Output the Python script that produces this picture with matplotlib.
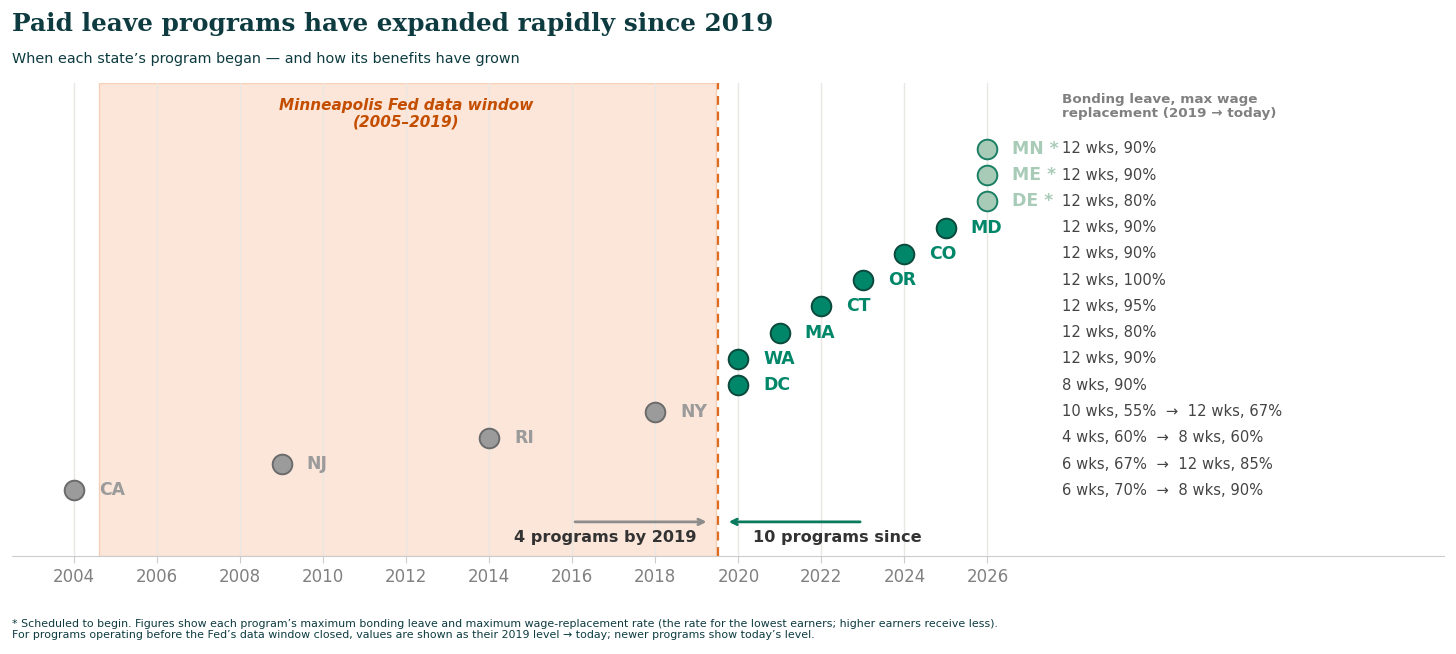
import matplotlib.pyplot as plt
import numpy as np

# program start years, bottom row first
states = ["CA", "NJ", "RI", "NY", "DC", "WA", "MA", "CT", "OR", "CO", "MD", "DE", "ME", "MN"]
start_years = [2004, 2009, 2014, 2018, 2020, 2020, 2021, 2022, 2023, 2024, 2025, 2026, 2026, 2026]
status = ["old", "old", "old", "old", "new", "new", "new", "new", "new", "new", "new",
          "sched", "sched", "sched"]
benefits = [
    "6 wks, 70%  \u2192  8 wks, 90%",
    "6 wks, 67%  \u2192  12 wks, 85%",
    "4 wks, 60%  \u2192  8 wks, 60%",
    "10 wks, 55%  \u2192  12 wks, 67%",
    "8 wks, 90%",
    "12 wks, 90%",
    "12 wks, 80%",
    "12 wks, 95%",
    "12 wks, 100%",
    "12 wks, 90%",
    "12 wks, 90%",
    "12 wks, 80%",
    "12 wks, 90%",
    "12 wks, 90%",
]
window_start, window_end = 2004.6, 2019.5
x_ticks = list(range(2004, 2027, 2))

styles = {
    "old":   dict(fc="#9b9b9b", ec="#6b6b6b", tc="#9b9b9b"),
    "new":   dict(fc="#00876a", ec="#0b4a3c", tc="#00876a"),
    "sched": dict(fc="#a8cbb8", ec="#1a7f64", tc="#a8cbb8"),
}
dark = "#0d3b40"

fig = plt.figure(figsize=(14.56, 6.54), dpi=100)
ax = fig.add_axes([0.0082, 0.1498, 0.9836, 0.7232])

rows = np.arange(len(states))

# data window shading + cutoff line
ax.axvspan(window_start, window_end - 0.05, color="#fce6d9", ec="#f6cfb6", lw=1, zorder=0)
ax.axvline(window_end, color="#dd6b20", ls=(0, (4, 3)), lw=1.6, zorder=2)

for xt in x_ticks:
    ax.axvline(xt, color="#e9e6e3", lw=1, zorder=0.5)

for i, (st, yr, s, b) in enumerate(zip(states, start_years, status, benefits)):
    sty = styles[s]
    ax.scatter(yr, i, s=200, color=sty["fc"], edgecolors=sty["ec"], linewidths=1.4, zorder=3)
    lab = st + " *" if s == "sched" else st
    ax.text(yr + 0.6, i, lab, color=sty["tc"], fontsize=12.4, fontweight="bold",
            va="center", ha="left", zorder=4)
    ax.text(2027.8, i, b, color="#444444", fontsize=10.6, va="center", ha="left")

ax.text(2027.8, 14.6, "Bonding leave, max wage\nreplacement (2019 \u2192 today)",
        color="#808080", fontsize=9.7, fontweight="bold", va="center", ha="left",
        linespacing=1.1)

ax.text(2012.0, 14.32, "Minneapolis Fed data window\n(2005\u20132019)", color="#c44e00",
        fontsize=11.0, fontweight="bold", style="italic", ha="center", va="center",
        linespacing=1.1)

# arrows
ax.annotate("", xy=(2019.3, -1.2), xytext=(2016.0, -1.2),
            arrowprops=dict(arrowstyle="->", color="#8c8c8c", lw=2))
ax.annotate("", xy=(2019.7, -1.2), xytext=(2023.0, -1.2),
            arrowprops=dict(arrowstyle="->", color="#0b7a5e", lw=2))
ax.text(2019.0, -1.8, "4 programs by 2019", ha="right", va="center",
        fontsize=11.6, fontweight="bold", color="#333333")
ax.text(2020.35, -1.8, "10 programs since", ha="left", va="center",
        fontsize=11.6, fontweight="bold", color="#333333")

ax.set_xlim(2002.5, 2037.0)
ax.set_ylim(-2.5, 15.5)
ax.set_xticks(x_ticks)
ax.set_yticks([])
ax.tick_params(axis="x", colors="#cccccc", labelcolor="#808080", labelsize=12, length=5)
for sp in ["left", "right", "top"]:
    ax.spines[sp].set_visible(False)
ax.spines["bottom"].set_color("#cccccc")

fig.text(0.0082, 0.963, "Paid leave programs have expanded rapidly since 2019",
         family="DejaVu Serif", fontweight="bold", fontsize=17.85, color=dark,
         ha="left", va="center")
fig.text(0.0082, 0.910, "When each state\u2019s program began \u2014 and how its benefits have grown",
         fontsize=10.4, color=dark, ha="left", va="center")
fig.text(0.0082, 0.038,
         "* Scheduled to begin. Figures show each program\u2019s maximum bonding leave and maximum "
         "wage-replacement rate (the rate for the lowest earners; higher earners receive less).\n"
         "For programs operating before the Fed\u2019s data window closed, values are shown as their "
         "2019 level \u2192 today; newer programs show today\u2019s level.",
         fontsize=7.9, color=dark, ha="left", va="center", linespacing=1.1)

fig.savefig("out.png", dpi=100)
